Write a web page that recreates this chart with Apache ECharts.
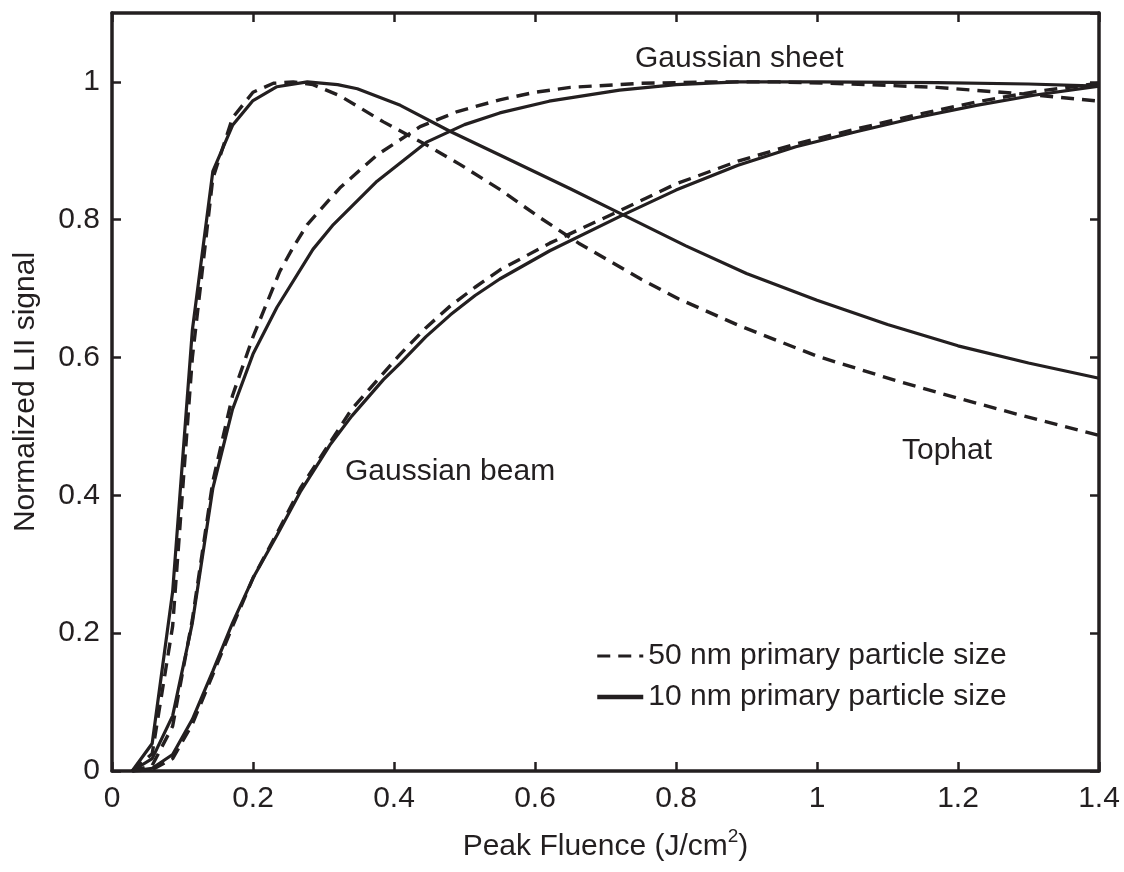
<!DOCTYPE html>
<html><head><meta charset="utf-8">
<script src="https://cdn.jsdelivr.net/npm/echarts@6/dist/echarts.min.js"></script>
<style>html,body{margin:0;padding:0;background:#fff}#c{width:1124px;height:872px}</style>
</head><body><div id="c"></div>
<script>
// ---- data ----
const xTickValues = [0, 0.2, 0.4, 0.6, 0.8, 1, 1.2, 1.4];
const yTickValues = [0, 0.2, 0.4, 0.6, 0.8, 1];

const tophat10X = [0.0286,0.057,0.086,0.114,0.143,0.171,0.2,0.234,0.277,0.32,0.348,0.409,0.48,0.55,0.65,0.725,0.814,0.9,1.0,1.1,1.2,1.3,1.4];
const tophat10Y = [0,0.04,0.26,0.64,0.87,0.937,0.973,0.993,1.0,0.996,0.99,0.966,0.928,0.894,0.845,0.807,0.762,0.722,0.683,0.648,0.617,0.592,0.57];

const tophat50X = [0.0286,0.057,0.086,0.114,0.143,0.171,0.2,0.229,0.257,0.285,0.323,0.385,0.447,0.494,0.55,0.607,0.662,0.75,0.804,0.888,1.0,1.114,1.2,1.283,1.4];
const tophat50Y = [0,0.025,0.21,0.6,0.86,0.948,0.985,0.998,1.0,0.996,0.98,0.942,0.908,0.88,0.844,0.803,0.766,0.714,0.685,0.647,0.602,0.566,0.541,0.518,0.487];

const sheet10X = [0.0286,0.057,0.086,0.114,0.143,0.171,0.2,0.234,0.285,0.314,0.376,0.447,0.5,0.55,0.62,0.72,0.8,0.888,1.0,1.17,1.3,1.4];
const sheet10Y = [0,0.018,0.08,0.215,0.41,0.525,0.605,0.673,0.757,0.793,0.856,0.913,0.938,0.955,0.972,0.988,0.996,1.0,1.0,0.999,0.997,0.994];

const sheet50X = [0.0286,0.057,0.086,0.114,0.143,0.171,0.2,0.21,0.238,0.257,0.277,0.323,0.376,0.437,0.49,0.55,0.6,0.65,0.75,0.85,0.945,1.05,1.17,1.3,1.4];
const sheet50Y = [0,0.008,0.065,0.22,0.42,0.545,0.63,0.655,0.725,0.76,0.793,0.846,0.894,0.935,0.957,0.974,0.985,0.992,0.998,1.0,1.0,0.997,0.992,0.982,0.972];

const beam10X = [0.0286,0.057,0.086,0.114,0.143,0.171,0.2,0.234,0.267,0.309,0.34,0.385,0.409,0.445,0.48,0.515,0.55,0.621,0.725,0.8,0.888,0.97,1.057,1.14,1.226,1.31,1.4];
const beam10Y = [0,0.004,0.024,0.075,0.145,0.215,0.28,0.342,0.405,0.473,0.515,0.568,0.592,0.63,0.662,0.69,0.714,0.755,0.807,0.843,0.879,0.906,0.928,0.948,0.966,0.981,0.994];

const beam50X = [0.0286,0.057,0.086,0.114,0.143,0.171,0.2,0.234,0.267,0.34,0.409,0.445,0.48,0.515,0.55,0.621,0.72,0.8,0.888,0.97,1.057,1.14,1.226,1.31,1.4];
const beam50Y = [0,0.002,0.018,0.068,0.14,0.21,0.28,0.345,0.41,0.525,0.605,0.643,0.675,0.702,0.727,0.766,0.813,0.852,0.885,0.91,0.932,0.952,0.971,0.986,0.998];

const legend50 = '50 nm primary particle size';
const legend10 = '10 nm primary particle size';
const annotations = ['Gaussian sheet', 'Tophat', 'Gaussian beam'];
const xAxisName = 'Peak Fluence (J/cm{sup|2})';
const yAxisName = 'Normalized LII signal';

// ---- chart ----
const INK = '#231f20';
const FONT = '"Liberation Sans", Arial, Helvetica, sans-serif';
const zip = (xs, ys) => xs.map((x, i) => [x, ys[i]]);

function lineSeries(name, xs, ys, dashed) {
  return {
    name, type: 'line', data: zip(xs, ys), symbol: 'none', smooth: false,
    lineStyle: { color: INK, width: dashed ? 3.4 : 3.2, type: dashed ? [13, 8] : 'solid' },
    itemStyle: { color: INK }, emphasis: { disabled: true }, silent: true
  };
}

const chart = echarts.init(document.getElementById('c'), null, { renderer: 'canvas' });

const axisCommon = {
  type: 'value',
  axisLine: { show: true, onZero: false, lineStyle: { color: INK, width: 3.5 } },
  axisTick: { show: true, inside: true, length: 9, lineStyle: { color: INK, width: 2.5 } },
  splitLine: { show: false }
};

chart.setOption({
  animation: false,
  backgroundColor: '#fff',
  grid: { left: 112, right: 25, top: 13, bottom: 94, containLabel: false },
  xAxis: [
    Object.assign({}, axisCommon, {
      position: 'bottom', min: xTickValues[0], max: xTickValues[xTickValues.length - 1], interval: 0.2,
      axisLabel: { fontSize: 30, fontFamily: FONT, color: INK, margin: 13 },
      name: xAxisName, nameLocation: 'middle', nameGap: 56,
      nameTextStyle: { fontSize: 30, fontFamily: FONT, color: INK, lineHeight: 40,
        rich: { sup: { fontSize: 19, fontFamily: FONT, color: INK, verticalAlign: 'top', lineHeight: 19 } } }
    }),
    Object.assign({}, axisCommon, {
      position: 'top', min: xTickValues[0], max: xTickValues[xTickValues.length - 1], interval: 0.2,
      axisLabel: { show: false }
    })
  ],
  yAxis: [
    Object.assign({}, axisCommon, {
      position: 'left', min: yTickValues[0], max: 1.1, interval: 0.2,
      axisLabel: { fontSize: 30, fontFamily: FONT, color: INK, margin: 12, showMaxLabel: false },
      name: yAxisName, nameLocation: 'middle', nameGap: 71,
      nameTextStyle: { fontSize: 30, fontFamily: FONT, color: INK }
    }),
    Object.assign({}, axisCommon, {
      position: 'right', min: yTickValues[0], max: 1.1, interval: 0.2,
      axisLabel: { show: false }
    })
  ],
  legend: {
    orient: 'vertical', left: 590, top: 636, itemWidth: 46, itemHeight: 14, itemGap: 11,
    selectedMode: false,
    itemStyle: { opacity: 0 },
    textStyle: { fontSize: 30, fontFamily: FONT, color: INK, lineHeight: 30 },
    data: [{ name: legend50, lineStyle: { width: 3 } }, { name: legend10, lineStyle: { width: 4.5 } }]
  },
  graphic: [
    { type: 'text', x: 635, y: 59, silent: true, style: { text: annotations[0], fontSize: 30, fontFamily: FONT, fill: INK, align: 'left', verticalAlign: 'middle' } },
    { type: 'text', x: 902, y: 451, silent: true, style: { text: annotations[1], fontSize: 30, fontFamily: FONT, fill: INK, align: 'left', verticalAlign: 'middle' } },
    { type: 'text', x: 345, y: 472, silent: true, style: { text: annotations[2], fontSize: 30, fontFamily: FONT, fill: INK, align: 'left', verticalAlign: 'middle' } }
  ],
  series: [
    lineSeries(legend50, tophat50X, tophat50Y, true),
    lineSeries(legend10, tophat10X, tophat10Y, false),
    lineSeries(legend50, sheet50X, sheet50Y, true),
    lineSeries(legend10, sheet10X, sheet10Y, false),
    lineSeries(legend50, beam50X, beam50Y, true),
    lineSeries(legend10, beam10X, beam10Y, false)
  ]
});
</script>
</body></html>
